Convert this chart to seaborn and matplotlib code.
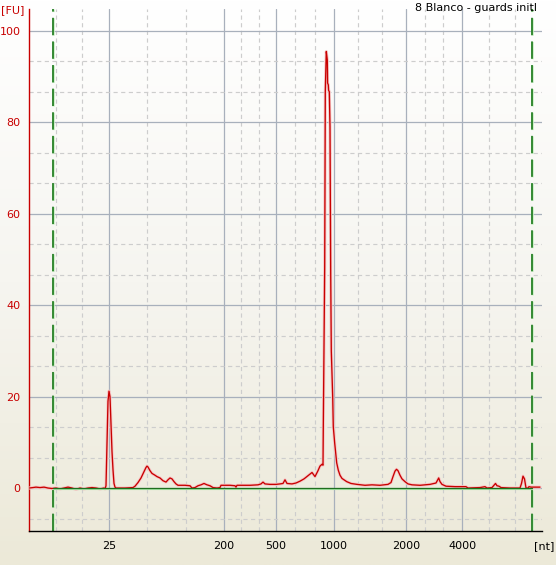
import numpy as np
import pandas as pd
import matplotlib
matplotlib.use("Agg")
import matplotlib.pyplot as plt
from matplotlib.colors import LinearSegmentedColormap
import seaborn as sns

# ---------------- data ----------------
# migration time (s) and fluorescence (FU) of the electropherogram trace
time_s = [20.0, 20.4, 20.7, 21.1, 21.5, 21.9, 22.3, 22.7, 23.1, 23.5, 23.9, 24.3, 24.7, 25.1,
          25.5, 25.9, 26.3, 26.7, 27.1, 27.5, 27.6, 27.7, 27.8, 27.9, 28.0, 28.1, 28.2, 28.3,
          28.4, 28.5, 28.6, 28.7, 29.6, 30.4, 30.6, 30.9, 31.2, 31.5, 31.7, 31.8, 31.9, 32.1,
          32.3, 32.6, 32.8, 33.1, 33.4, 33.7, 33.9, 34.1, 34.3, 34.5, 34.7, 34.9, 35.6, 36.1,
          36.3, 36.6, 36.9, 37.2, 37.5, 37.8, 38.1, 38.4, 38.8, 39.1, 39.2, 40.1, 40.6, 40.7,
          40.8, 42.1, 42.9, 43.2, 43.4, 43.6, 44.1, 44.7, 45.1, 45.4, 45.6, 45.8, 46.3, 46.7,
          47.1, 47.5, 47.9, 48.3, 48.6, 48.9, 49.1, 49.3, 49.4, 49.43, 49.57, 49.63, 49.73,
          49.83, 49.86, 49.93, 49.96, 50.03, 50.1, 50.17, 50.23, 50.37, 50.43, 50.57, 50.77,
          50.93, 51.1, 51.3, 51.77, 52.2, 52.8, 53.6, 54.3, 55.1, 55.9, 56.2, 56.4, 56.6,
          56.75, 56.9, 57.1, 57.3, 57.6, 57.9, 58.3, 59.1, 60.1, 60.7, 60.97, 61.1, 61.3,
          61.7, 62.6, 63.7, 63.9, 65.1, 65.6, 65.8, 66.3, 66.5, 66.65, 66.8, 67.0, 67.2,
          68.1, 69.1, 69.25, 69.4, 69.55, 69.7, 69.9, 70.0, 70.2, 71.0, 71.1]
fu = [0.0, 0.1, 0.2, 0.1, 0.2, 0.0, -0.1, 0.0, -0.2, 0.0, 0.2, 0.0, -0.3, 0.0,
      -0.2, 0.0, 0.1, 0.0, -0.2, 0.0, -0.2, 0.5, 10.0, 19.0, 21.2, 20.0, 14.0, 8.0,
      4.0, 1.0, 0.2, 0.0, 0.0, 0.1, 0.4, 1.2, 2.2, 3.6, 4.5, 4.8, 4.6, 3.8,
      3.2, 2.8, 2.5, 2.2, 1.6, 1.3, 1.8, 2.2, 2.0, 1.4, 0.9, 0.6, 0.6, 0.5,
      0.0, 0.1, 0.5, 0.7, 1.0, 0.7, 0.5, 0.1, 0.0, 0.1, 0.6, 0.6, 0.5, 0.2,
      0.6, 0.6, 0.7, 0.9, 1.3, 0.9, 0.8, 0.8, 0.9, 1.0, 1.8, 1.0, 0.9, 1.1,
      1.5, 2.0, 2.7, 3.4, 2.5, 3.8, 4.8, 5.2, 5.0, 13.4, 48.4, 86.7, 95.5,
      93.6, 88.6, 88.2, 87.0, 86.7, 79.0, 47.0, 30.0, 20.0, 13.4, 9.8, 5.5,
      3.9, 2.8, 2.1, 1.4, 1.0, 0.8, 0.6, 0.7, 0.6, 0.8, 1.2, 2.5, 3.7,
      4.1, 3.8, 2.8, 2.0, 1.4, 0.9, 0.7, 0.6, 0.8, 1.1, 2.2, 1.4, 0.8,
      0.4, 0.3, 0.3, 0.0, 0.1, 0.3, 0.0, 0.1, 0.6, 1.0, 0.5, 0.4, 0.1,
      0.0, 0.0, 1.0, 2.6, 2.0, 0.0, 0.0, 0.3, 0.2, 0.2, 0.2]

# ladder sizes (nt) and the migration times where they are labelled
ladder_nt = ["25", "200", "500", "1000", "2000", "4000"]
ladder_time = [28.0, 39.5, 44.7, 50.5, 57.7, 63.3]
axis_time_limits = [20.0, 71.3]

# lower / upper marker times (green dashed lines)
marker_times = [22.4, 70.3]

fu_ticks = [0, 20, 40, 60, 80, 100]
fu_limits = [-9.4, 104.8]

sample_name = "8 Blanco - guards initl"

# ---------------- style ----------------
sns.set_style("white")
plt.rcParams["font.family"] = ["DejaVu Sans"]
plt.rcParams["lines.scale_dashes"] = False

RED = "#C80000"
W, H = 556, 565
fig = plt.figure(figsize=(W / 100, H / 100), dpi=100)

# background gradient over the whole figure
bg = fig.add_axes([0, 0, 1, 1], zorder=-5)
grad = np.linspace(0, 1, 256).reshape(-1, 1)
cmap = LinearSegmentedColormap.from_list("bg", ["#FFFFFF", "#F6F5F0", "#ECE9D8"])
bg.imshow(grad, cmap=cmap, extent=[0, 1, 0, 1], aspect="auto", origin="upper")
bg.axis("off")

ax = fig.add_axes([29 / W, (H - 531) / H, (542 - 29) / W, (531 - 9) / H])
ax.set_facecolor("none")

# trace
df = pd.DataFrame({"time": time_s, "FU": fu})
sns.lineplot(data=df, x="time", y="FU", estimator=None, sort=False, ax=ax,
             color="#F6C6C6", linewidth=2.2, zorder=3)
sns.lineplot(data=df, x="time", y="FU", estimator=None, sort=False, ax=ax,
             color=RED, linewidth=0.95, zorder=4)

# marker lines
for t in marker_times:
    ax.axvline(t, color="#C6EEC0", linewidth=1.8, linestyle=(0, (12.5, 4.5)), zorder=2)
    ax.axvline(t, color="#0B6E0B", linewidth=1.1, linestyle=(0, (12.5, 4.5)), zorder=2)

# baseline
ax.plot([marker_times[0], marker_times[1]], [-0.25, -0.25], color="#A6E4A6",
        linewidth=0.8, zorder=5)
ax.plot([marker_times[0], marker_times[1]], [0.1, 0.1], color="#1E6E1E",
        linewidth=0.9, zorder=5)

# ticks and grid
edges = [axis_time_limits[0]] + ladder_time + [axis_time_limits[1]]
minor_x = []
for a, b in zip(edges[:-1], edges[1:]):
    minor_x += [a + (b - a) / 3, a + 2 * (b - a) / 3]
ax.set_xticks(ladder_time)
ax.set_xticklabels(ladder_nt)
ax.set_xticks(minor_x, minor=True)

ax.set_yticks(fu_ticks)
ax.set_yticklabels([str(v) for v in fu_ticks])
minor_y = []
for v in [-20] + fu_ticks:
    minor_y += [v + 20 / 3, v + 40 / 3]
ax.set_yticks(minor_y, minor=True)

ax.grid(which="major", color="#A8B0BC", linewidth=0.9, linestyle="-", zorder=0)
ax.grid(which="minor", color="#CDCDCD", linewidth=0.85, linestyle=(0, (3.0, 2.5)), zorder=0)
ax.set_axisbelow(True)

ax.tick_params(axis="x", which="both", length=0, pad=7, labelsize=8, colors="black")
ax.tick_params(axis="y", which="major", length=4.5, width=0.9, pad=1.5, labelsize=8,
               colors=RED)
ax.tick_params(axis="y", which="minor", length=0)

for s in ["top", "right"]:
    ax.spines[s].set_visible(False)
ax.spines["left"].set_color(RED)
ax.spines["left"].set_linewidth(1.0)
ax.spines["bottom"].set_color("black")
ax.spines["bottom"].set_linewidth(1.0)

ax.set_xlabel("")
ax.set_ylabel("")
ax.set_xlim(*axis_time_limits)
ax.set_ylim(*fu_limits)

fig.text(1 / W, 1 - 10 / H, "[FU]", color=RED, fontsize=8, ha="left", va="center")
fig.text(544 / W, 1 - 546 / H, "[nt]", color="black", fontsize=8, ha="center", va="center")
fig.text(537 / W, 1 - 8 / H, sample_name, color="black", fontsize=8, ha="right", va="center")

fig.savefig("out.png", dpi=100)
